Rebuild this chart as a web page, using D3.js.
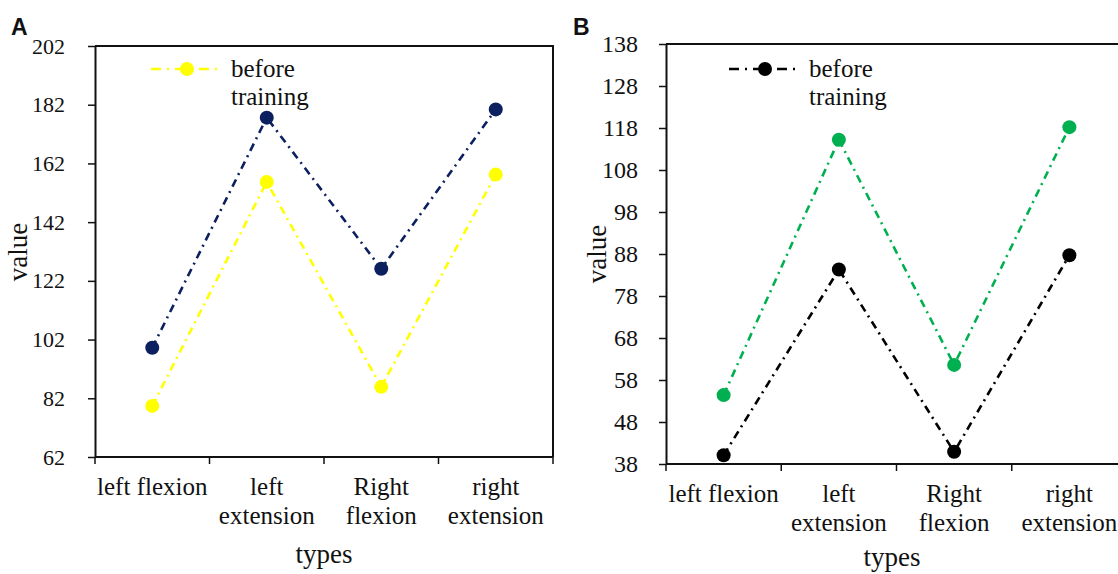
<!DOCTYPE html>
<html>
<head>
<meta charset="utf-8">
<script src="https://cdn.jsdelivr.net/npm/d3@7"></script>
<style>
  html, body { margin: 0; padding: 0; background: #fff; }
  svg { display: block; }
</style>
</head>
<body>
<svg id="chart" width="1118" height="574"></svg>
<script>
// categories shown on both panels (one entry per label line)
var categories = ['left flexion', 'left extension', 'Right flexion', 'right extension'];
var categoryLines = [['left flexion'], ['left', 'extension'], ['Right', 'flexion'], ['right', 'extension']];

// panel A
var ticksA = [62, 82, 102, 122, 142, 162, 182, 202];
var beforeA = [79.4, 155.7, 85.9, 158.2];
var afterA = [99.2, 177.6, 126.1, 180.4];

// panel B
var ticksB = [38, 48, 58, 68, 78, 88, 98, 108, 118, 128, 138];
var beforeB = [40.1, 84.3, 40.9, 87.7];
var afterB = [54.4, 115.2, 61.6, 118.2];

var legendLabel = ['before', 'training'];
var dash = '8,5,2,5';
var serif = '"Liberation Serif", "Times New Roman", serif';
var ink = '#111';

var svg = d3.select('#chart');

function Panel(opt) {
  var x = d3.scaleBand()
    .domain(categories)
    .range([opt.left, opt.right]);

  var y = d3.scaleLinear()
    .domain([opt.ticks[0], opt.ticks[opt.ticks.length - 1]])
    .range([opt.bottom, opt.top]);

  var g = svg.append('g');

  // frame (top + right)
  g.append('path')
    .attr('fill', 'none')
    .attr('stroke', ink)
    .attr('stroke-width', 2)
    .attr('d', 'M' + opt.left + ',' + opt.top + 'H' + opt.right + 'V' + opt.bottom);

  // y axis
  var yAxis = g.append('g')
    .attr('transform', 'translate(' + opt.left + ',0)')
    .call(d3.axisLeft(y).tickValues(opt.ticks).tickSize(7).tickSizeOuter(0).tickPadding(opt.yPad))
    .attr('font-family', serif);
  yAxis.select('.domain').attr('stroke', ink).attr('stroke-width', 2);
  yAxis.selectAll('.tick line').attr('stroke', ink).attr('stroke-width', 1.5);
  yAxis.selectAll('.tick text')
    .attr('font-family', serif)
    .attr('font-size', opt.tickFont)
    .attr('fill', ink);

  // x axis: ticks sit on the band edges
  var xAxis = g.append('g')
    .attr('transform', 'translate(0,' + opt.bottom + ')');
  xAxis.append('line')
    .attr('x1', opt.left).attr('x2', opt.right)
    .attr('stroke', ink).attr('stroke-width', 2);
  var edges = categories.map(function (c) { return x(c); }).concat([opt.right]);
  xAxis.selectAll('.edge')
    .data(edges)
    .enter().append('line')
    .attr('class', 'edge')
    .attr('x1', function (d) { return d; })
    .attr('x2', function (d) { return d; })
    .attr('y1', 0).attr('y2', 7)
    .attr('stroke', ink).attr('stroke-width', 1.5);

  var labels = xAxis.selectAll('.cat')
    .data(categoryLines)
    .enter().append('text')
    .attr('class', 'cat')
    .attr('text-anchor', 'middle')
    .attr('font-family', serif)
    .attr('font-size', 25)
    .attr('fill', ink)
    .attr('transform', function (d, i) {
      return 'translate(' + (x(categories[i]) + x.bandwidth() / 2) + ',' + opt.labelY + ')';
    });
  labels.selectAll('tspan')
    .data(function (d) { return d; })
    .enter().append('tspan')
    .attr('x', 0)
    .attr('y', function (d, i) { return i * 29; })
    .text(function (d) { return d; });

  // axis titles
  g.append('text')
    .attr('text-anchor', 'middle')
    .attr('font-family', serif)
    .attr('font-size', 27)
    .attr('fill', ink)
    .attr('x', (opt.left + Math.min(opt.right, 1118)) / 2)
    .attr('y', opt.typesY)
    .text('types');

  g.append('text')
    .attr('text-anchor', 'middle')
    .attr('font-family', serif)
    .attr('font-size', 27)
    .attr('fill', ink)
    .attr('transform', 'translate(' + opt.valueX + ',' + opt.valueY + ') rotate(-90)')
    .text('value');

  // panel letter
  g.append('text')
    .attr('x', opt.letterX)
    .attr('y', 35)
    .attr('font-family', '"Liberation Sans", Arial, sans-serif')
    .attr('font-weight', 'bold')
    .attr('font-size', 23)
    .attr('fill', ink)
    .text(opt.letter);

  // series
  var line = d3.line()
    .x(function (d, i) { return x(categories[i]) + x.bandwidth() / 2; })
    .y(function (d) { return y(d); });

  opt.series.forEach(function (s) {
    g.append('path')
      .datum(s.values)
      .attr('fill', 'none')
      .attr('stroke', s.color)
      .attr('stroke-width', 2.6)
      .attr('stroke-dasharray', dash)
      .attr('d', line);

    g.selectAll(null)
      .data(s.values)
      .enter().append('circle')
      .attr('cx', function (d, i) { return x(categories[i]) + x.bandwidth() / 2; })
      .attr('cy', function (d) { return y(d); })
      .attr('r', 7)
      .attr('fill', s.color);
  });

  // legend (only the "before training" series)
  var lg = g.append('g')
    .attr('transform', 'translate(' + opt.legendX + ',69)');
  lg.append('line')
    .attr('x1', 0).attr('x2', 68)
    .attr('stroke', opt.series[0].color)
    .attr('stroke-width', 2.6)
    .attr('stroke-dasharray', '10,6,2,6');
  lg.append('circle')
    .attr('cx', 36).attr('cy', 0).attr('r', 7)
    .attr('fill', opt.series[0].color);
  lg.selectAll('.lt')
    .data(legendLabel)
    .enter().append('text')
    .attr('class', 'lt')
    .attr('x', 80)
    .attr('y', function (d, i) { return 8 + i * 28; })
    .attr('font-family', serif)
    .attr('font-size', 25)
    .attr('fill', ink)
    .text(function (d) { return d; });
}

new Panel({
  letter: 'A', letterX: 11,
  left: 95, right: 553, top: 46, bottom: 457,
  ticks: ticksA, yPad: 23, tickFont: 22,
  labelY: 38, typesY: 563,
  valueX: 27, valueY: 252,
  legendX: 151,
  series: [
    { values: beforeA, color: '#ffff00' },
    { values: afterA, color: '#0c1f5e' }
  ]
});

new Panel({
  letter: 'B', letterX: 573,
  left: 666, right: 1127, top: 44, bottom: 464,
  ticks: ticksB, yPad: 21, tickFont: 24,
  labelY: 38, typesY: 566,
  valueX: 606, valueY: 254,
  legendX: 729,
  series: [
    { values: beforeB, color: '#000000' },
    { values: afterB, color: '#00b050' }
  ]
});
</script>
</body>
</html>
